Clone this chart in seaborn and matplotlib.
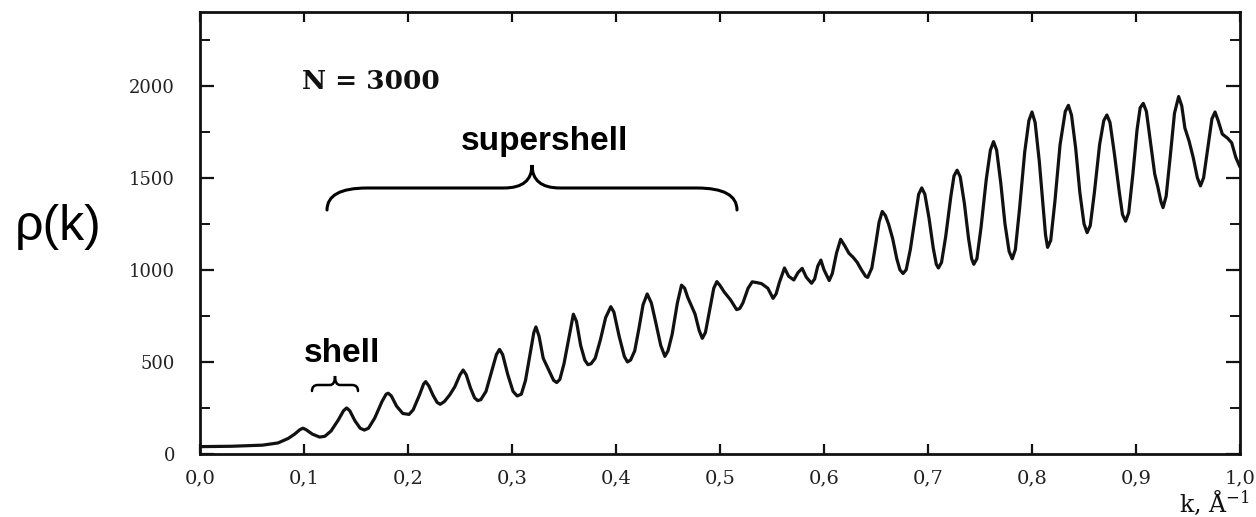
import numpy as np
import matplotlib
matplotlib.use("Agg")
import matplotlib.pyplot as plt
from matplotlib.path import Path
from matplotlib.patches import PathPatch
from matplotlib.ticker import MultipleLocator, FixedLocator, FixedFormatter
import seaborn as sns
import pandas as pd

# ---- data (k in 1/Angstrom, rho(k)) ----
k_values = [
    0.000, 0.030, 0.060, 0.075, 0.085, 0.091, 0.096, 0.099, 0.102, 0.108,
    0.115, 0.120, 0.126, 0.133, 0.138, 0.141, 0.144, 0.149, 0.154, 0.158,
    0.162, 0.168, 0.175, 0.179, 0.181, 0.184, 0.189, 0.195, 0.201, 0.205,
    0.211, 0.215, 0.217, 0.220, 0.224, 0.228, 0.231, 0.235, 0.240, 0.245,
    0.250, 0.253, 0.256, 0.260, 0.264, 0.267, 0.270, 0.275, 0.281, 0.285,
    0.288, 0.291, 0.296, 0.301, 0.305, 0.309, 0.313, 0.317, 0.321, 0.323,
    0.326, 0.330, 0.335, 0.340, 0.343, 0.346, 0.350, 0.355, 0.359, 0.362,
    0.366, 0.370, 0.373, 0.376, 0.380, 0.385, 0.390, 0.395, 0.398, 0.403,
    0.408, 0.411, 0.414, 0.418, 0.422, 0.426, 0.430, 0.434, 0.438, 0.443,
    0.447, 0.450, 0.454, 0.459, 0.463, 0.466, 0.469, 0.476, 0.480, 0.483,
    0.486, 0.490, 0.494, 0.497, 0.500, 0.504, 0.510, 0.516, 0.519, 0.522,
    0.527, 0.531, 0.536, 0.540, 0.546, 0.551, 0.554, 0.557, 0.562, 0.566,
    0.571, 0.575, 0.579, 0.583, 0.588, 0.591, 0.594, 0.597, 0.600, 0.605,
    0.608, 0.612, 0.616, 0.620, 0.624, 0.628, 0.632, 0.636, 0.640, 0.642,
    0.646, 0.650, 0.653, 0.656, 0.659, 0.662, 0.666, 0.670, 0.673, 0.676,
    0.679, 0.683, 0.688, 0.691, 0.694, 0.697, 0.701, 0.705, 0.708, 0.710,
    0.713, 0.717, 0.722, 0.725, 0.728, 0.731, 0.735, 0.739, 0.742, 0.744,
    0.747, 0.751, 0.756, 0.760, 0.763, 0.766, 0.770, 0.774, 0.778, 0.781,
    0.784, 0.788, 0.793, 0.797, 0.800, 0.803, 0.807, 0.811, 0.813, 0.815,
    0.818, 0.822, 0.827, 0.832, 0.835, 0.838, 0.842, 0.846, 0.850, 0.853,
    0.856, 0.860, 0.865, 0.869, 0.872, 0.875, 0.879, 0.884, 0.887, 0.890,
    0.893, 0.897, 0.901, 0.904, 0.907, 0.910, 0.914, 0.918, 0.921, 0.924,
    0.926, 0.929, 0.933, 0.937, 0.941, 0.944, 0.947, 0.951, 0.955, 0.959,
    0.962, 0.965, 0.969, 0.973, 0.976, 0.979, 0.983, 0.988, 0.992, 0.996,
    1.000]
rho_values = [
    40, 42, 48, 60, 85, 108, 132, 140, 132, 108,
    92, 96, 125, 185, 235, 250, 235, 180, 140, 130,
    140, 195, 285, 325, 330, 315, 260, 220, 215, 240,
    320, 380, 393, 370, 320, 280, 270, 285, 320, 365,
    430, 456, 430, 360, 305, 290, 295, 340, 460, 540,
    568, 540, 430, 340, 315, 325, 400, 530, 660, 690,
    640, 520, 460, 400, 388, 405, 490, 640, 759, 720,
    590, 510, 485, 490, 520, 620, 740, 800, 770, 640,
    530, 500, 510, 560, 680, 810, 869, 820, 720, 590,
    530, 560, 650, 820, 917, 900, 850, 760, 670, 628,
    660, 780, 900, 936, 915, 880, 838, 784, 790, 820,
    900, 935, 930, 925, 900, 845, 870, 930, 1010, 965,
    945, 985, 1008, 960, 927, 950, 1020, 1053, 1000, 942,
    980, 1090, 1166, 1130, 1090, 1068, 1040, 1000, 965, 959,
    1010, 1150, 1260, 1317, 1295, 1250, 1170, 1060, 1000, 980,
    1000, 1110, 1300, 1410, 1445, 1410, 1280, 1120, 1030, 1010,
    1040, 1180, 1400, 1510, 1541, 1505, 1360, 1170, 1060, 1030,
    1060, 1230, 1490, 1650, 1696, 1650, 1470, 1250, 1100, 1060,
    1110, 1330, 1640, 1810, 1857, 1800, 1590, 1320, 1190, 1122,
    1160, 1370, 1680, 1860, 1893, 1840, 1660, 1420, 1250, 1202,
    1240, 1420, 1680, 1810, 1841, 1800, 1640, 1420, 1300, 1264,
    1310, 1520, 1760, 1880, 1904, 1860, 1690, 1520, 1450, 1370,
    1338, 1400, 1620, 1850, 1941, 1890, 1770, 1700, 1610, 1500,
    1456, 1500, 1660, 1820, 1857, 1810, 1737, 1715, 1690, 1610,
    1558]

x_ticks = [0.0, 0.1, 0.2, 0.3, 0.4, 0.5, 0.6, 0.7, 0.8, 0.9, 1.0]
x_tick_labels = ["0,0", "0,1", "0,2", "0,3", "0,4", "0,5", "0,6", "0,7", "0,8", "0,9", "1,0"]
y_ticks = [0, 500, 1000, 1500, 2000]
y_tick_labels = ["0", "500", "1000", "1500", "2000"]

W, H = 1256, 517

sns.set_theme(style="white")
plt.rcParams["font.family"] = ["DejaVu Serif"]
plt.rcParams["mathtext.fontset"] = "dejavuserif"

fig = plt.figure(figsize=(W / 100, H / 100), dpi=100)
ax = fig.add_axes([200 / W, 1 - 454 / H, 1040 / W, 442 / H])

df = pd.DataFrame({"k": k_values, "rho": rho_values})
sns.lineplot(data=df, x="k", y="rho", ax=ax, color="#111111", lw=2.3, sort=True)
for ln in ax.lines:
    ln.set_solid_joinstyle("round")

ax.set_xlim(0, 1.0)
ax.set_ylim(0, 2400)
ax.set_xlabel("")
ax.set_ylabel("")

for s in ax.spines.values():
    s.set_visible(True)
    s.set_linewidth(2.0)
    s.set_color("#111111")

ax.xaxis.set_major_locator(FixedLocator(x_ticks))
ax.xaxis.set_major_formatter(FixedFormatter(x_tick_labels))
ax.yaxis.set_major_locator(FixedLocator(y_ticks))
ax.yaxis.set_major_formatter(FixedFormatter(y_tick_labels))
ax.yaxis.set_minor_locator(MultipleLocator(250))

ax.tick_params(axis="x", which="major", direction="in", top=True, bottom=True,
               length=7, width=1.6, color="#111111", pad=11, labelsize=14,
               labelcolor="#222222")
ax.tick_params(axis="y", which="major", direction="in", left=True, right=True,
               length=10, width=1.6, color="#111111", pad=18, labelsize=13,
               labelcolor="#222222")
ax.tick_params(axis="y", which="minor", direction="in", left=True, right=True,
               length=7, width=1.4, color="#111111")

# annotations
fig.text(302 / W, 1 - 89 / H, "N = 3000", fontsize=19, fontweight="bold",
         family="DejaVu Serif", ha="left", va="baseline", color="#111111")
fig.text(545 / W, 1 - 150 / H, "supershell", fontsize=24, fontweight="bold",
         family="Liberation Sans", ha="center", va="baseline", color="black")
fig.text(342 / W, 1 - 362 / H, "shell", fontsize=24, fontweight="bold",
         family="Liberation Sans", ha="center", va="baseline", color="black")
fig.text(58 / W, 1 - 227 / H, "ρ(k)", fontsize=36,
         family="Liberation Sans", ha="center", va="center", color="black")
fig.text(1250 / W, 1 - 512 / H, r"k, Å$^{-1}$", fontsize=17,
         family="DejaVu Serif", ha="right", va="baseline", color="#111111")


def brace(x0, x1, ybase, ymid, ytip, r_end, r_tip, lw):
    xc = (x0 + x1) / 2
    pts = [(x0, ybase), (x0, ymid), (x0 + r_end, ymid),
           (xc - r_tip, ymid), (xc, ymid), (xc, ytip),
           (xc, ymid), (xc + r_tip, ymid),
           (x1 - r_end, ymid), (x1, ymid), (x1, ybase)]
    codes = [Path.MOVETO, Path.CURVE3, Path.CURVE3,
             Path.LINETO, Path.CURVE3, Path.CURVE3,
             Path.CURVE3, Path.CURVE3,
             Path.LINETO, Path.CURVE3, Path.CURVE3]
    pts = [(px / W, 1 - py / H) for px, py in pts]
    patch = PathPatch(Path(pts, codes), fill=False, lw=lw, ec="black",
                      transform=fig.transFigure, capstyle="round")
    fig.add_artist(patch)


brace(327, 737, 210, 188, 165, 40, 28, 2.2)
brace(312, 358, 391, 385, 376, 6, 5, 1.8)

fig.savefig("out.png", dpi=100, facecolor="white")
